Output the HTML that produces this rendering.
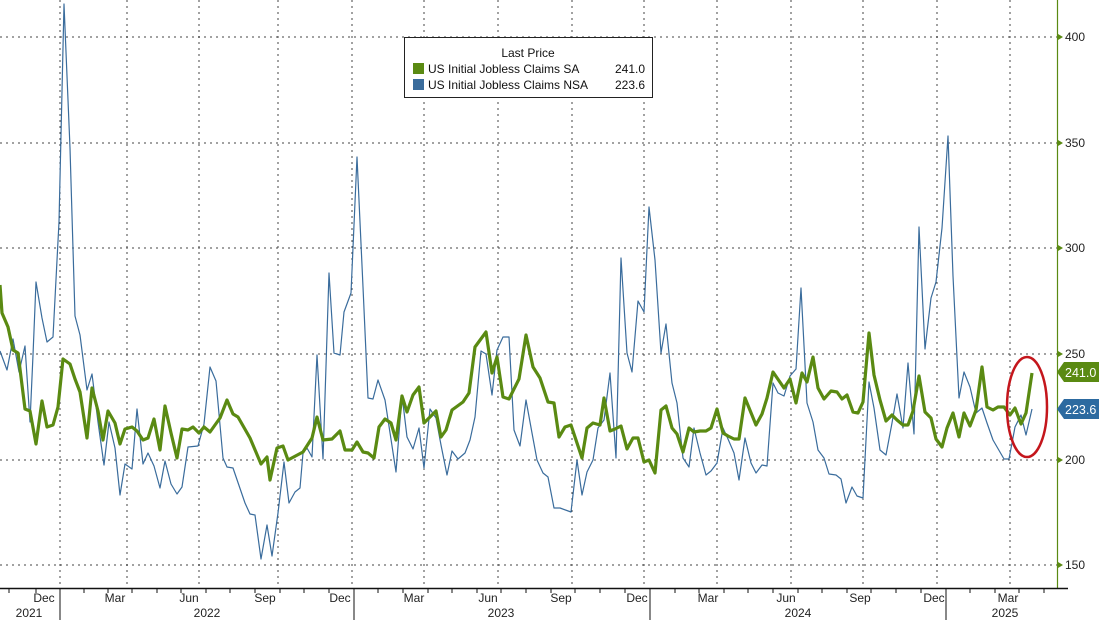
<!DOCTYPE html>
<html><head><meta charset="utf-8"><style>
html,body{margin:0;padding:0;background:#fff;}
svg{display:block;font-family:"Liberation Sans",sans-serif;}
</style></head><body>
<svg width="1099" height="620" viewBox="0 0 1099 620" xmlns="http://www.w3.org/2000/svg">
<g stroke="#444" stroke-width="1" stroke-dasharray="2,4" fill="none">
<line x1="0" y1="37" x2="1057" y2="37"/><line x1="0" y1="143" x2="1057" y2="143"/>
<line x1="0" y1="248" x2="1057" y2="248"/><line x1="0" y1="354" x2="1057" y2="354"/>
<line x1="0" y1="460" x2="1057" y2="460"/><line x1="0" y1="565" x2="1057" y2="565"/>
<line x1="60" y1="0" x2="60" y2="588"/><line x1="127" y1="0" x2="127" y2="588"/><line x1="199" y1="0" x2="199" y2="588"/>
<line x1="278" y1="0" x2="278" y2="588"/><line x1="352" y1="0" x2="352" y2="588"/><line x1="424" y1="0" x2="424" y2="588"/>
<line x1="498" y1="0" x2="498" y2="588"/><line x1="572" y1="0" x2="572" y2="588"/><line x1="644" y1="0" x2="644" y2="588"/>
<line x1="717" y1="0" x2="717" y2="588"/><line x1="791" y1="0" x2="791" y2="588"/><line x1="863" y1="0" x2="863" y2="588"/>
<line x1="937" y1="0" x2="937" y2="588"/><line x1="1010" y1="0" x2="1010" y2="588"/>
</g>
<polyline fill="none" stroke="#3a6c9c" stroke-width="1.2" stroke-linejoin="round" points="0,351 7,370 13,339 19,372 25,346 30,422 33,355 36,282 42,318 47,342 53,337 59,222 64,4 70,148 75,316 80,335 87,390 92,374 98,422 104,465 109,422 115,448 120,495 125,464 132,469 137,409 143,464 148,453 154,466 160,488 165,461 171,484 177,494 182,487 188,447 198,446 204,424 210,367 216,381 223,458 227,467 233,468 245,503 250,514 255,515 261,559 267,525 272,556 278,513 284,462 289,503 295,492 300,488 303,453 307,448 312,457 317,355 323,459 329,273 334,353 340,355 344,312 351,293 357,157 363,287 368,398 373,399 378,380 385,400 396,472 402,395 407,437 413,449 419,428 424,468 430,409 436,418 441,445 447,475 452,451 458,459 465,453 470,440 475,417 481,351 486,354 492,395 497,350 503,337 509,337 514,430 520,446 526,400 532,433 537,460 543,473 548,477 554,508 560,508 571,512 577,460 582,495 587,472 593,460 598,428 604,420 610,373 616,458 621,258 627,353 632,372 638,301 644,312 649,207 655,260 661,353 666,324 672,383 677,403 683,458 689,467 694,428 700,453 706,475 711,471 717,463 723,428 728,439 734,453 739,480 745,438 751,463 756,473 762,465 767,466 773,383 778,393 784,396 790,376 796,369 801,288 807,403 813,422 818,450 824,458 829,474 836,475 841,479 846,503 852,487 857,496 863,498 869,382 874,408 880,450 886,455 892,423 897,394 903,428 908,363 914,434 919,227 925,349 931,298 936,282 942,228 948,136 953,276 959,398 964,372 970,387 976,413 982,408 987,423 993,440 1004,459 1009,459 1015,427 1021,415 1026,435 1032,409"/>
<polyline fill="none" stroke="#5a8a12" stroke-width="3.2" stroke-linejoin="round" points="0,285 2,313 8,327 13,350 18,353 25,409 30,411 36,444 42,401 47,427 53,425 58,407 63,359 70,364 75,379 80,392 87,438 92,388 98,411 103,440 108,411 115,423 120,444 125,429 132,427 137,431 143,440 148,438 154,419 160,450 165,406 171,433 177,458 182,429 188,430 193,427 199,433 204,427 210,432 220,418 227,400 233,414 238,417 250,438 261,464 267,457 270,480 277,448 283,446 288,460 303,452 312,438 317,417 323,440 332,439 340,431 345,450 352,450 357,442 363,452 368,453 374,458 379,427 385,419 391,423 396,440 402,396 407,412 413,395 419,387 424,423 436,411 441,437 446,430 452,410 463,402 469,393 475,347 486,332 492,373 497,357 503,397 509,399 519,379 526,335 533,367 540,378 548,402 554,403 559,437 565,427 571,425 582,458 587,428 593,423 600,425 604,398 610,431 615,429 621,426 627,449 633,438 638,438 644,462 649,460 655,473 661,410 666,406 672,428 677,434 683,452 689,428 694,432 700,431 706,431 711,428 717,409 723,433 728,436 734,439 739,439 745,398 756,425 762,414 767,398 773,372 784,388 790,379 796,403 802,373 807,382 813,357 818,388 824,399 831,391 837,392 842,399 847,395 853,412 858,413 863,402 869,333 874,375 880,400 886,421 892,415 897,420 903,425 908,425 913,411 919,376 925,412 931,418 936,439 942,447 947,428 953,413 959,437 964,413 970,426 976,410 982,367 987,407 993,410 998,407 1004,407 1010,415 1015,408 1021,424 1026,413 1032,373"/>
<ellipse cx="1027" cy="407" rx="20" ry="50" fill="none" stroke="#c4161c" stroke-width="2.5"/>
<!-- legend -->
<rect x="404.5" y="37.5" width="248" height="60" fill="#fff" stroke="#222" stroke-width="1"/>
<text x="528" y="57" font-size="12" text-anchor="middle" fill="#111">Last Price</text>
<rect x="413" y="63" width="11" height="11" fill="#5a8a12"/>
<text x="428" y="73" font-size="12" fill="#111">US Initial Jobless Claims SA</text>
<text x="645" y="73" font-size="12" fill="#111" text-anchor="end">241.0</text>
<rect x="413" y="79" width="11" height="11" fill="#3a6c9c"/>
<text x="428" y="89" font-size="12" fill="#111">US Initial Jobless Claims NSA</text>
<text x="645" y="89" font-size="12" fill="#111" text-anchor="end">223.6</text>
<!-- right axis -->
<line x1="1057.5" y1="0" x2="1057.5" y2="588" stroke="#5a8a12" stroke-width="1.2"/>
<g fill="#5a8a12">
<polygon points="1058,34 1063,37 1058,40"/><polygon points="1058,140 1063,143 1058,146"/>
<polygon points="1058,245 1063,248 1058,251"/><polygon points="1058,351 1063,354 1058,357"/>
<polygon points="1058,457 1063,460 1058,463"/><polygon points="1058,562 1063,565 1058,568"/>
</g>
<g font-size="12" fill="#222">
<text x="1065" y="41">400</text><text x="1065" y="147">350</text><text x="1065" y="252">300</text>
<text x="1065" y="358">250</text><text x="1065" y="464">200</text><text x="1065" y="569">150</text>
</g>
<polygon points="1057,372 1064,362 1099,362 1099,382 1064,382" fill="#5a8a12"/>
<text x="1065" y="377" font-size="12.5" fill="#fff">241.0</text>
<polygon points="1057,409 1064,399 1099,399 1099,419 1064,419" fill="#2c6aa0"/>
<text x="1065" y="414" font-size="12.5" fill="#fff">223.6</text>
<!-- bottom axis -->
<line x1="0" y1="588.5" x2="1068" y2="588.5" stroke="#111" stroke-width="1.5"/>
<g stroke="#111" stroke-width="1">
<line x1="60" y1="588" x2="60" y2="620"/><line x1="354" y1="588" x2="354" y2="620"/>
<line x1="650" y1="588" x2="650" y2="620"/><line x1="946" y1="588" x2="946" y2="620"/>
<line x1="9" y1="588" x2="9" y2="593"/><line x1="36" y1="588" x2="36" y2="593"/><line x1="84" y1="588" x2="84" y2="593"/>
<line x1="108" y1="588" x2="108" y2="593"/><line x1="132" y1="588" x2="132" y2="593"/><line x1="157" y1="588" x2="157" y2="593"/>
<line x1="181" y1="588" x2="181" y2="593"/><line x1="206" y1="588" x2="206" y2="593"/><line x1="230" y1="588" x2="230" y2="593"/>
<line x1="255" y1="588" x2="255" y2="593"/><line x1="280" y1="588" x2="280" y2="593"/><line x1="304" y1="588" x2="304" y2="593"/>
<line x1="329" y1="588" x2="329" y2="593"/><line x1="378" y1="588" x2="378" y2="593"/><line x1="403" y1="588" x2="403" y2="593"/>
<line x1="428" y1="588" x2="428" y2="593"/><line x1="452" y1="588" x2="452" y2="593"/><line x1="477" y1="588" x2="477" y2="593"/>
<line x1="501" y1="588" x2="501" y2="593"/><line x1="526" y1="588" x2="526" y2="593"/><line x1="551" y1="588" x2="551" y2="593"/>
<line x1="575" y1="588" x2="575" y2="593"/><line x1="600" y1="588" x2="600" y2="593"/><line x1="625" y1="588" x2="625" y2="593"/>
<line x1="675" y1="588" x2="675" y2="593"/><line x1="699" y1="588" x2="699" y2="593"/><line x1="724" y1="588" x2="724" y2="593"/>
<line x1="748" y1="588" x2="748" y2="593"/><line x1="773" y1="588" x2="773" y2="593"/><line x1="798" y1="588" x2="798" y2="593"/>
<line x1="822" y1="588" x2="822" y2="593"/><line x1="847" y1="588" x2="847" y2="593"/><line x1="871" y1="588" x2="871" y2="593"/>
<line x1="896" y1="588" x2="896" y2="593"/><line x1="921" y1="588" x2="921" y2="593"/><line x1="970" y1="588" x2="970" y2="593"/>
<line x1="995" y1="588" x2="995" y2="593"/><line x1="1019" y1="588" x2="1019" y2="593"/><line x1="1044" y1="588" x2="1044" y2="593"/>
</g>
<g font-size="12" fill="#222" text-anchor="middle">
<text x="44" y="602">Dec</text><text x="115" y="602">Mar</text><text x="189" y="602">Jun</text><text x="265" y="602">Sep</text>
<text x="340" y="602">Dec</text><text x="414" y="602">Mar</text><text x="488" y="602">Jun</text><text x="561" y="602">Sep</text>
<text x="637" y="602">Dec</text><text x="708" y="602">Mar</text><text x="786" y="602">Jun</text><text x="860" y="602">Sep</text>
<text x="934" y="602">Dec</text><text x="1008" y="602">Mar</text>
<text x="29" y="617">2021</text><text x="207" y="617">2022</text><text x="501" y="617">2023</text>
<text x="798" y="617">2024</text><text x="1005" y="617">2025</text>
</g>
</svg>
</body></html>
